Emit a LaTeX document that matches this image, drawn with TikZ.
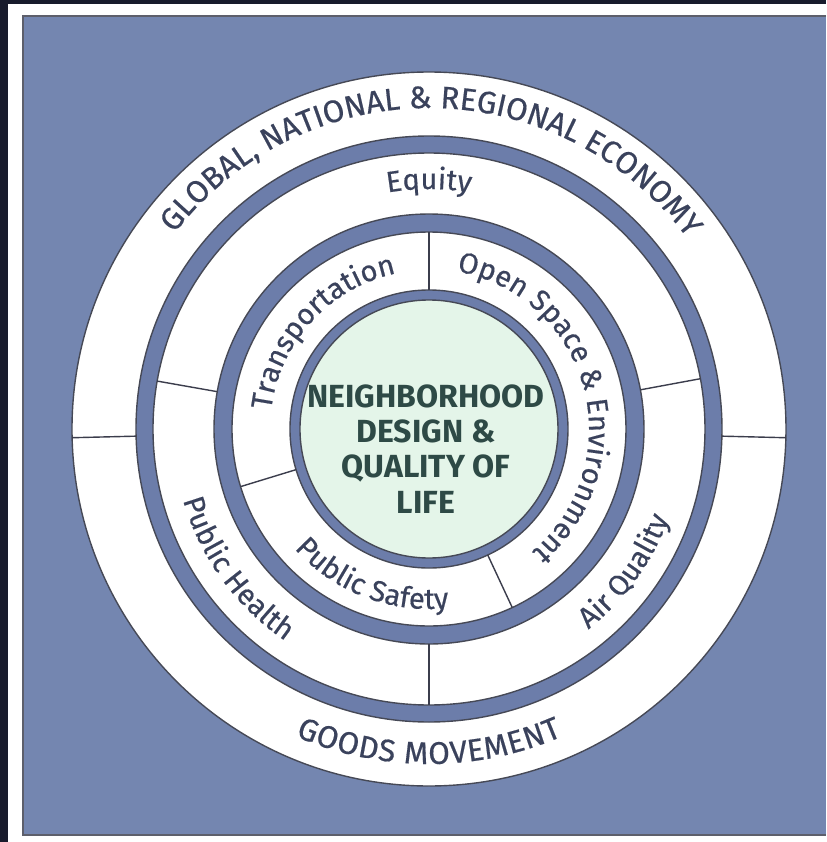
\documentclass[tikz,border=0pt]{standalone}
\usepackage{fontspec}
\setmainfont{Fira Sans}
\newfontfamily\ringfam{Fira Sans}[FakeBold=0.5]
\usetikzlibrary{decorations.text}

\definecolor{panelblue}{RGB}{116,134,176}
\definecolor{bandblue}{RGB}{108,125,170}
\definecolor{framedark}{RGB}{24,27,44}
\definecolor{inkslate}{RGB}{58,66,92}
\definecolor{coregreen}{RGB}{228,245,233}
\definecolor{coreink}{RGB}{46,74,70}

\newcommand{\ringfont}{\ringfam\fontsize{14.6}{16}\selectfont}
\newcommand{\capsfont}{\ringfam\fontsize{15.6}{18}\selectfont}

\begin{document}
\begin{tikzpicture}[x=0.5pt,y=0.5pt,
    edge/.style={draw=framedark!80,line width=0.7pt},
    divider/.style={draw=framedark!85,line width=0.7pt},
    ringtext/.style={decorate,decoration={text along path,text align=center,text color=inkslate}}]
\useasboundingbox (-429,-413) rectangle (397,429);
\clip (-429,-413) rectangle (397,429);

% frame and panel
\fill[white] (-429,-413) rectangle (397,429);
\fill[framedark] (-429,-413) rectangle (-421,429);
\fill[framedark] (-429,425) rectangle (397,429);
\fill[panelblue] (-406,-406) rectangle (397,413);
\draw[framedark!70,line width=0.6pt] (397,413) -- (-406,413) -- (-406,-406) -- (397,-406);

% rings, outside in
\filldraw[fill=white,edge] (0,0) circle[radius=357];
\filldraw[fill=bandblue,edge] (0,0) circle[radius=293];
\filldraw[fill=white,edge] (0,0) circle[radius=276];
\filldraw[fill=bandblue,edge] (0,0) circle[radius=215];
\filldraw[fill=white,edge] (0,0) circle[radius=197];
\filldraw[fill=bandblue,edge] (0,0) circle[radius=139];
\filldraw[fill=coregreen,edge] (0,0) circle[radius=129];

% dividers
\foreach \a in {181.4,-1.4} \draw[divider] (\a:293) -- (\a:357);
\foreach \a in {10.5,170,270} \draw[divider] (\a:215) -- (\a:276);
\foreach \a in {90,197,295} \draw[divider] (\a:139) -- (\a:197);

% outer ring
\path[ringtext,decoration={text={|\capsfont|GLOBAL, NATIONAL {\&} REGIONAL ECONOMY},text align=fit to path}]
  (142.5:321) arc[start angle=142.5,end angle=37.5,radius=321];
\path[ringtext,decoration={text={|\capsfont|GOODS MOVEMENT},text align=fit to path}]
  (246.5:335) arc[start angle=246.5,end angle=293.5,radius=335];

% middle ring
\path[ringtext,decoration={text={|\ringfont|Equity}}]
  (120:240) arc[start angle=120,end angle=60,radius=240];
\path[ringtext,decoration={text={|\ringfont|Public Health}}]
  (176:256) arc[start angle=176,end angle=256,radius=256];
\path[ringtext,decoration={text={|\ringfont|Air Quality}}]
  (-76:256) arc[start angle=-76,end angle=4,radius=256];

% inner ring
\path[ringtext,decoration={text={|\ringfont|Transportation}}]
  (177.5:159) arc[start angle=177.5,end angle=97.5,radius=159];
\path[ringtext,decoration={text={|\ringfont|Open Space {\&} Environment}}]
  (85:160) arc[start angle=85,end angle=-55,radius=160];
\path[ringtext,decoration={text={|\ringfont|Public Safety}}]
  (209:180) arc[start angle=209,end angle=289,radius=180];

\node[align=center,font=\bfseries\fontsize{16}{17.6}\selectfont,text=coreink] (core) at (-3,-20)
  {NEIGHBORHOOD\\DESIGN \&\\QUALITY OF\\LIFE};
\end{tikzpicture}
\end{document}
